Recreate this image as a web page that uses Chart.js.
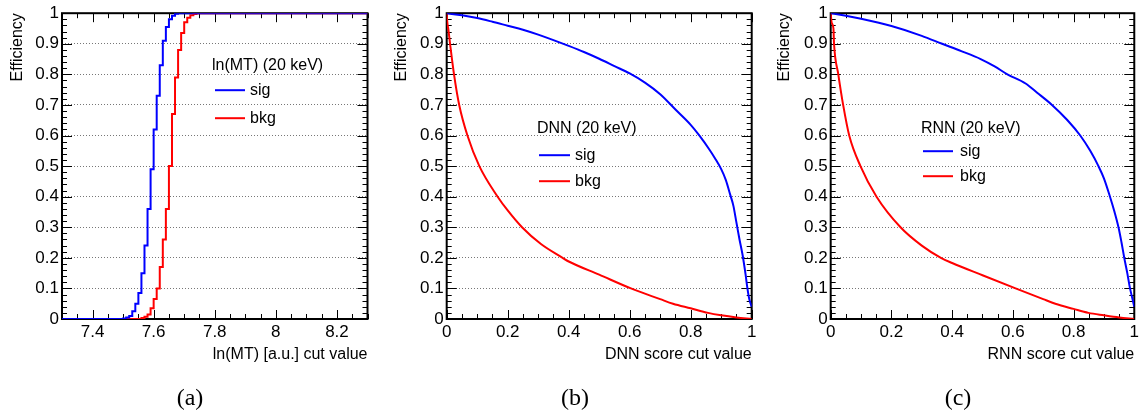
<!DOCTYPE html>
<html>
<head>
<meta charset="utf-8">
<script src="https://cdn.jsdelivr.net/npm/chart.js@4/dist/chart.umd.min.js"></script>
<style>
  body { margin: 0; background: #fff; width: 1142px; height: 416px; overflow: hidden; position: relative; }
  .panel { position: absolute; top: 0; height: 416px; }
  .cap { position: absolute; top: 384px; width: 60px; line-height: 28px; text-align: center;
         font: 24px "Liberation Serif", "DejaVu Serif", serif; color: #000; }
</style>
</head>
<body>
<div class="panel" style="left:0;width:380px"><canvas id="chartA"></canvas></div>
<div class="panel" style="left:380px;width:380px"><canvas id="chartB"></canvas></div>
<div class="panel" style="left:760px;width:382px"><canvas id="chartC"></canvas></div>
<div class="cap" style="left:160px">(a)</div>
<div class="cap" style="left:545px">(b)</div>
<div class="cap" style="left:928px">(c)</div>

<script>
// tick labels
const effTicks = [0, 0.1, 0.2, 0.3, 0.4, 0.5, 0.6, 0.7, 0.8, 0.9, 1];
const lnmtTicks = [7.4, 7.6, 7.8, 8, 8.2];
const scoreTicks = [0, 0.2, 0.4, 0.6, 0.8, 1];

// (a) ln(MT) cut
const lnmtSigX = [7.30, 7.49, 7.50, 7.51, 7.52, 7.53, 7.54, 7.55, 7.56, 7.57, 7.58, 7.59, 7.60, 7.61, 7.62, 7.63, 7.64, 7.65, 7.66, 7.67, 7.68, 8.30];
const lnmtSigY = [0, 0, 0.002, 0.005, 0.01, 0.025, 0.05, 0.085, 0.15, 0.24, 0.36, 0.49, 0.62, 0.73, 0.83, 0.91, 0.955, 0.98, 0.992, 0.998, 1, 1];
const lnmtBkgX = [7.30, 7.55, 7.56, 7.57, 7.58, 7.59, 7.60, 7.61, 7.62, 7.63, 7.64, 7.65, 7.66, 7.67, 7.68, 7.69, 7.70, 7.71, 7.72, 7.73, 7.74, 8.30];
const lnmtBkgY = [0, 0, 0.003, 0.007, 0.015, 0.035, 0.065, 0.1, 0.17, 0.26, 0.36, 0.5, 0.67, 0.79, 0.88, 0.935, 0.97, 0.985, 0.993, 0.997, 1, 1];

// (b) DNN score cut
const dnnSigX = [0, 0.05, 0.1, 0.15, 0.2, 0.25, 0.3, 0.35, 0.4, 0.45, 0.5, 0.55, 0.6, 0.65, 0.7, 0.75, 0.8, 0.83, 0.86, 0.88, 0.9, 0.915, 0.93, 0.94, 0.95, 0.96, 0.97, 0.98, 0.986, 0.992, 1];
const dnnSigY = [1, 0.993, 0.984, 0.972, 0.959, 0.946, 0.93, 0.912, 0.893, 0.873, 0.851, 0.827, 0.803, 0.773, 0.735, 0.685, 0.635, 0.598, 0.556, 0.525, 0.49, 0.455, 0.405, 0.37, 0.315, 0.26, 0.21, 0.145, 0.1, 0.065, 0.04];
const dnnBkgX = [0, 0.002, 0.005, 0.011, 0.024, 0.041, 0.068, 0.107, 0.167, 0.2, 0.247, 0.309, 0.38, 0.4, 0.5, 0.604, 0.7, 0.742, 0.8, 0.857, 0.9, 0.95, 1];
const dnnBkgY = [1, 0.97, 0.95, 0.9, 0.8, 0.7, 0.6, 0.5, 0.4, 0.355, 0.3, 0.245, 0.2, 0.188, 0.145, 0.1, 0.065, 0.05, 0.035, 0.02, 0.012, 0.005, 0];

// (c) RNN score cut
const rnnSigX = [0, 0.05, 0.1, 0.2, 0.3, 0.367, 0.43, 0.494, 0.54, 0.582, 0.642, 0.68, 0.729, 0.78, 0.822, 0.855, 0.882, 0.9, 0.92, 0.935, 0.948, 0.958, 0.967, 0.977, 0.986, 0.993, 1];
const rnnSigY = [1, 0.992, 0.982, 0.958, 0.926, 0.9, 0.876, 0.85, 0.826, 0.8, 0.77, 0.74, 0.7, 0.65, 0.6, 0.55, 0.5, 0.46, 0.4, 0.35, 0.3, 0.25, 0.2, 0.15, 0.1, 0.07, 0.04];
const rnnBkgX = [0, 0.003, 0.009, 0.011, 0.025, 0.041, 0.061, 0.098, 0.151, 0.23, 0.3, 0.363, 0.4, 0.5, 0.609, 0.7, 0.74, 0.8, 0.849, 0.9, 0.95, 1];
const rnnBkgY = [1, 0.97, 0.95, 0.9, 0.8, 0.7, 0.6, 0.5, 0.4, 0.3, 0.24, 0.2, 0.183, 0.143, 0.1, 0.065, 0.05, 0.033, 0.02, 0.012, 0.005, 0];

const FONT = '"Liberation Sans", Arial, sans-serif';
Chart.defaults.font.family = FONT;
Chart.defaults.color = '#000';

function pts(xs, ys) {
  return xs.map((x, i) => ({ x: x, y: ys[i] }));
}

// ROOT-like frame with inner tick marks on all four sides (curves go on top)
const frameTicks = {
  id: 'frameTicks',
  beforeDatasetsDraw(chart, args, opts) {
    const { ctx, chartArea: a, scales: { x, y } } = chart;
    ctx.save();
    ctx.strokeStyle = '#000';
    ctx.lineWidth = 1;
    ctx.beginPath();
    for (let i = 0; i <= 50; i++) {
      const py = Math.round(y.getPixelForValue(i / 50)) + 0.5;
      const len = i % 5 === 0 ? 10 : 5;
      ctx.moveTo(a.left, py); ctx.lineTo(a.left + len, py);
      ctx.moveTo(a.right, py); ctx.lineTo(a.right - len, py);
    }
    const n = Math.round((x.max - x.min) / 0.05);
    for (let i = 0; i <= n; i++) {
      const v = x.min + i * 0.05;
      const px = Math.round(x.getPixelForValue(v)) + 0.5;
      const len = opts.major.some((m) => Math.abs(m - v) < 1e-6) ? 9 : 5;
      ctx.moveTo(px, a.bottom); ctx.lineTo(px, a.bottom - len);
      ctx.moveTo(px, a.top); ctx.lineTo(px, a.top + len);
    }
    ctx.stroke();
    ctx.lineWidth = 2;
    ctx.strokeRect(a.left, a.top, a.right - a.left, a.bottom - a.top);
    ctx.restore();
  }
};

// legend box drawn inside the plot
const panelLegend = {
  id: 'panelLegend',
  afterDraw(chart, args, opts) {
    const { ctx, chartArea: a } = chart;
    const x0 = a.left + opts.x, y0 = a.top + opts.y;
    ctx.save();
    ctx.font = '16px ' + FONT;
    ctx.fillStyle = '#000';
    ctx.textBaseline = 'middle';
    ctx.textAlign = 'left';
    ctx.fillText(opts.title, x0, y0);
    chart.data.datasets.forEach((ds, i) => {
      const ly = y0 + opts.rows[i];
      ctx.strokeStyle = ds.borderColor;
      ctx.lineWidth = 2;
      ctx.beginPath();
      ctx.moveTo(x0 + opts.line[0], ly);
      ctx.lineTo(x0 + opts.line[1], ly);
      ctx.stroke();
      ctx.fillText(ds.label, x0 + opts.textAt, ly);
    });
    ctx.restore();
  }
};

function makePanel(id, p) {
  const lineOpts = p.stepped ? { stepped: true } : { cubicInterpolationMode: 'monotone' };
  new Chart(document.getElementById(id), {
    type: 'line',
    data: {
      datasets: [
        Object.assign({ label: 'sig', data: pts(p.sigX, p.sigY), borderColor: '#0000ff' }, lineOpts),
        Object.assign({ label: 'bkg', data: pts(p.bkgX, p.bkgY), borderColor: '#ff0000' }, lineOpts)
      ]
    },
    options: {
      responsive: true,
      maintainAspectRatio: false,
      devicePixelRatio: 1,
      animation: false,
      parsing: false,
      elements: {
        point: { radius: 0 },
        line: { borderWidth: 2 }
      },
      layout: { padding: { left: p.padLeft, right: p.padRight, top: 10, bottom: 52 } },
      plugins: {
        legend: { display: false },
        tooltip: { enabled: false },
        frameTicks: { major: p.xTicks },
        panelLegend: p.legend
      },
      scales: {
        x: {
          type: 'linear',
          min: p.xMin,
          max: p.xMax,
          afterBuildTicks: (s) => { s.ticks = p.xTicks.map((v) => ({ value: v })); },
          afterFit: (s) => { s.height = 45; },
          grid: { display: false, drawTicks: false },
          border: { display: false },
          ticks: { padding: 3, maxRotation: 0, autoSkip: false, font: { size: 17 }, callback: (v) => String(v) },
          title: { display: true, text: p.xTitle, align: 'end', padding: 0, font: { size: 16 } }
        },
        y: {
          min: 0,
          max: 1,
          afterBuildTicks: (s) => { s.ticks = effTicks.map((v) => ({ value: v })); },
          afterFit: (s) => { s.width = p.yWidth; },
          grid: { drawTicks: false, color: '#777', lineWidth: 1 },
          border: { display: false, dash: [1, 2] },
          ticks: { padding: 3, autoSkip: false, font: { size: 17 }, callback: (v) => String(v) },
          title: { display: true, text: 'Efficiency', align: 'end', padding: 0, font: { size: 16 } }
        }
      }
    },
    plugins: [frameTicks, panelLegend]
  });
}

makePanel('chartA', {
  sigX: lnmtSigX, sigY: lnmtSigY, bkgX: lnmtBkgX, bkgY: lnmtBkgY, stepped: true,
  xMin: 7.3, xMax: 8.3, xTicks: lnmtTicks, xTitle: 'ln(MT) [a.u.] cut value',
  padLeft: 8.4, padRight: 12.5, yWidth: 53.6,
  legend: { title: 'ln(MT) (20 keV)', x: 150, y: 52, rows: [25, 53], line: [3, 33], textAt: 38 }
});
makePanel('chartB', {
  sigX: dnnSigX, sigY: dnnSigY, bkgX: dnnBkgX, bkgY: dnnBkgY, stepped: false,
  xMin: 0, xMax: 1, xTicks: scoreTicks, xTitle: 'DNN score cut value',
  padLeft: 12.4, padRight: 8.3, yWidth: 54.3,
  legend: { title: 'DNN (20 keV)', x: 90.3, y: 115, rows: [27, 53], line: [2, 33], textAt: 38 }
});
makePanel('chartC', {
  sigX: rnnSigX, sigY: rnnSigY, bkgX: rnnBkgX, bkgY: rnnBkgY, stepped: false,
  xMin: 0, xMax: 1, xTicks: scoreTicks, xTitle: 'RNN score cut value',
  padLeft: 15.4, padRight: 6, yWidth: 55.3,
  legend: { title: 'RNN (20 keV)', x: 90.3, y: 115, rows: [23, 48], line: [2, 32], textAt: 39 }
});
</script>
</body>
</html>
